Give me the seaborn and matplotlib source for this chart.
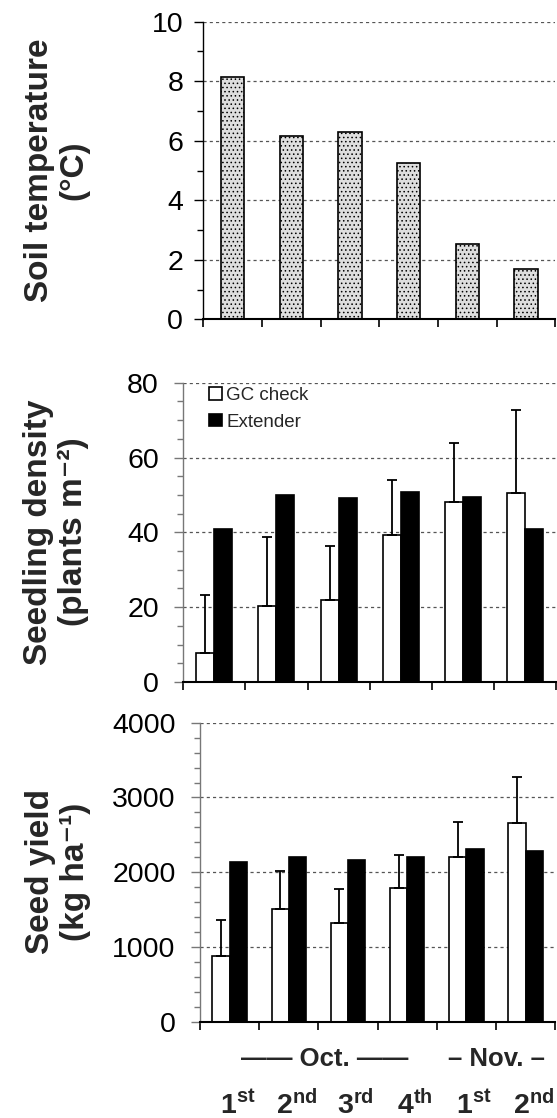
import matplotlib
matplotlib.use("Agg")
import matplotlib.pyplot as plt
from matplotlib.ticker import MultipleLocator
import seaborn as sns
import pandas as pd
import numpy as np

# sowing dates (Oct 1st-4th week, Nov 1st-2nd week)
dates = ["Oct 1", "Oct 2", "Oct 3", "Oct 4", "Nov 1", "Nov 2"]
ordinals = ["1", "2", "3", "4", "1", "2"]
suffixes = ["st", "nd", "rd", "th", "st", "nd"]
treatments = ["GC check", "Extender"]

soil_temp = [8.15, 6.17, 6.3, 5.25, 2.52, 1.68]

density_gc = [7.7, 20.3, 21.8, 39.3, 48.0, 50.4]
density_gc_err = [15.5, 18.4, 14.5, 14.7, 16.0, 22.3]
density_ext = [40.8, 50.1, 49.1, 50.9, 49.4, 40.9]

yield_gc = [885, 1502, 1327, 1783, 2208, 2655]
yield_gc_err = [474, 518, 452, 452, 465, 617]
yield_ext = [2141, 2199, 2159, 2203, 2311, 2279]

sns.set_theme(style="white")
plt.rcParams["font.family"] = ["Liberation Sans", "DejaVu Sans"]
plt.rcParams["mathtext.fontset"] = "custom"
plt.rcParams["mathtext.rm"] = "Liberation Sans"
plt.rcParams["mathtext.bf"] = "Liberation Sans:bold"
plt.rcParams["hatch.linewidth"] = 0.6

W, H = 557, 1118
fig = plt.figure(figsize=(W / 100, H / 100), dpi=100)


def box(left, right, top, bottom):
    return [left / W, 1 - bottom / H, (right - left) / W, (bottom - top) / H]


ax1 = fig.add_axes(box(203.3, 555.3, 21.7, 319.3))
ax2 = fig.add_axes(box(183.3, 556.0, 382.7, 682.0))
ax3 = fig.add_axes(box(200.0, 555.2, 722.7, 1021.7))


def style(ax, ymax, major, minor, pad, spine_col):
    ax.set_xlim(-0.5, 5.5)
    ax.set_ylim(0, ymax)
    ax.set_yticks(np.arange(0, ymax + 1, major))
    ax.yaxis.set_minor_locator(MultipleLocator(minor))
    ax.yaxis.grid(True, which="major", linestyle=(0, (2.5, 2.5)), color="#555555", linewidth=0.9)
    ax.set_axisbelow(True)
    for s in ["top", "right"]:
        ax.spines[s].set_visible(False)
    ax.spines["left"].set_color(spine_col)
    ax.spines["left"].set_linewidth(1.0)
    ax.spines["bottom"].set_color("black")
    ax.spines["bottom"].set_linewidth(1.5)
    ax.tick_params(axis="y", which="major", left=True, direction="out", length=6.5, width=1,
                   color=spine_col, labelsize=20.5, pad=pad, labelcolor="black")
    ax.tick_params(axis="y", which="minor", left=True, direction="out", length=4.5, width=1,
                   color=spine_col)
    ax.set_xticks(np.arange(-0.5, 6, 1))
    ax.set_xticklabels([])
    ax.tick_params(axis="x", bottom=True, direction="out", length=5.5, width=1.2, color="black")
    ax.set_xlabel("")
    ax.set_ylabel("")


# --- soil temperature
sns.barplot(x=dates, y=soil_temp, ax=ax1, color="#dedede", saturation=1, width=0.4,
            edgecolor="black", linewidth=1.2, hatch="....")
style(ax1, 10, 2, 1, 8, "black")

# --- seedling density
dens = pd.DataFrame({
    "date": dates * 2,
    "treatment": [treatments[0]] * 6 + [treatments[1]] * 6,
    "value": density_gc + density_ext,
})
sns.barplot(data=dens, x="date", y="value", hue="treatment", ax=ax2, width=0.58,
            palette={"GC check": "white", "Extender": "black"}, saturation=1,
            edgecolor="black", linewidth=1.2, legend=False)
xs = [p.get_x() + p.get_width() / 2 for p in ax2.containers[0]]
ax2.errorbar(xs, density_gc, yerr=[np.zeros(6), density_gc_err], fmt="none", ecolor="black",
             elinewidth=1.3, capsize=3.6, capthick=1.3, zorder=3)
style(ax2, 80, 20, 5, 11, "#777777")
ax2.legend(handles=[ax2.containers[0][0], ax2.containers[1][0]], labels=treatments,
           loc="upper left", bbox_to_anchor=(0.07, 0.985), frameon=False, fontsize=13.5,
           handlelength=0.65, handleheight=0.65, handletextpad=0.25, labelspacing=0.5,
           borderpad=0, borderaxespad=0)

# --- seed yield
yld = pd.DataFrame({
    "date": dates * 2,
    "treatment": [treatments[0]] * 6 + [treatments[1]] * 6,
    "value": yield_gc + yield_ext,
})
sns.barplot(data=yld, x="date", y="value", hue="treatment", ax=ax3, width=0.58,
            palette={"GC check": "white", "Extender": "black"}, saturation=1,
            edgecolor="black", linewidth=1.2, legend=False)
xs = [p.get_x() + p.get_width() / 2 for p in ax3.containers[0]]
ax3.errorbar(xs, yield_gc, yerr=[np.zeros(6), yield_gc_err], fmt="none", ecolor="black",
             elinewidth=1.3, capsize=3.6, capthick=1.3, zorder=3)
style(ax3, 4000, 1000, 200, 11, "#777777")

# month brackets and week ordinals under the bottom panel
tr = ax3.get_xaxis_transform()
ax3.text(1.6, -0.148, "\u2014\u2014 Oct. \u2014\u2014", transform=tr, ha="center", va="baseline",
         fontsize=18.5, fontweight="bold", clip_on=False)
ax3.text(4.5, -0.148, "\u2013 Nov. \u2013", transform=tr, ha="center", va="baseline",
         fontsize=18.5, fontweight="bold", clip_on=False)
for i, (o, s) in enumerate(zip(ordinals, suffixes)):
    ax3.text(i + 0.13, -0.309, r"$\mathbf{%s^{%s}}$" % (o, s), transform=tr, ha="center",
             va="baseline", fontsize=20.5, clip_on=False)

# y labels
lab = dict(rotation=90, ha="center", va="center", multialignment="center",
           fontsize=24, fontweight="bold", linespacing=1.15)
fig.text(57 / W, 1 - 170 / H, "Soil temperature\n(\u00b0C)", **lab)
fig.text(56 / W, 1 - 532 / H, "Seedling density\n(plants m\u207b\u00b2)", **lab)
fig.text(58 / W, 1 - 872 / H, "Seed yield\n(kg ha\u207b\u00b9)", **lab)

fig.savefig("out.png", dpi=100)
